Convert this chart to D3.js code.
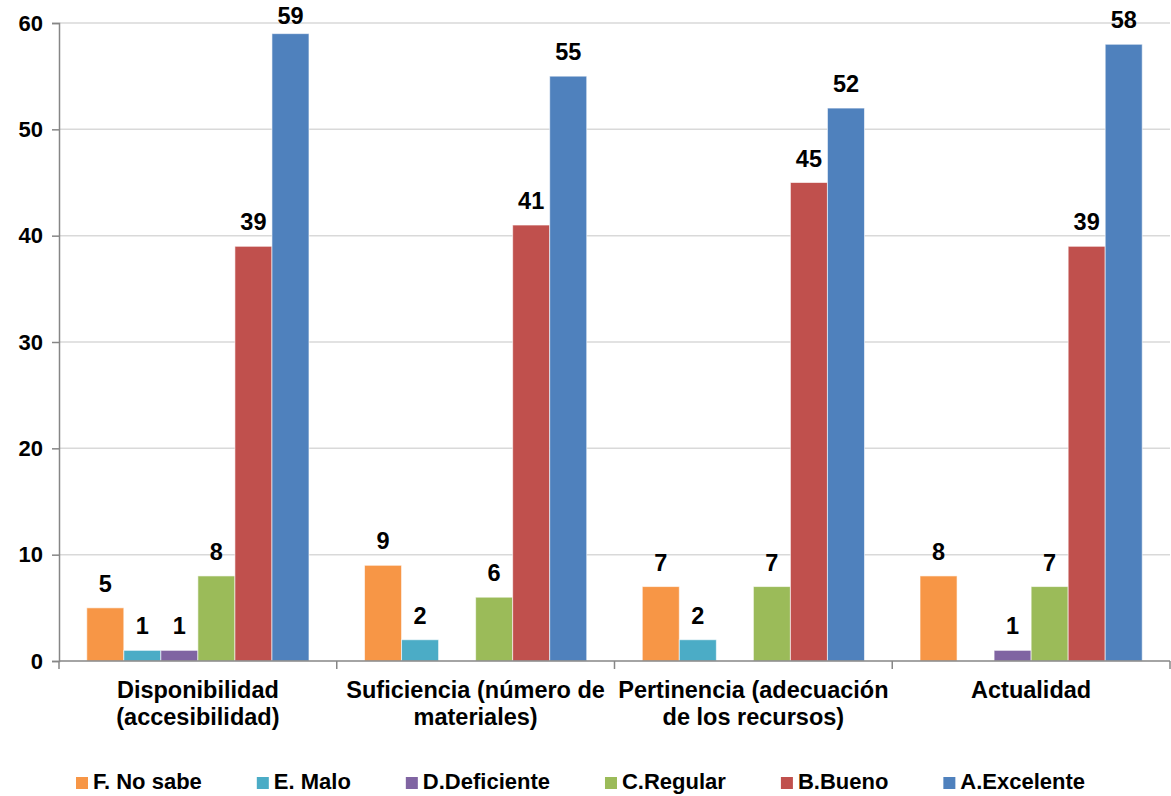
<!DOCTYPE html>
<html>
<head>
<meta charset="utf-8">
<script src="https://cdn.jsdelivr.net/npm/d3@7"></script>
<style>
  body { margin: 0; background: #fff; }
  text { font-family: "Liberation Sans", Arial, sans-serif; font-weight: bold; fill: #000; }
</style>
</head>
<body>
<div id="chart"></div>
<script>
// categories along the x axis, and how each label wraps
var categories = ['Disponibilidad (accesibilidad)', 'Suficiencia (número de materiales)',
  'Pertinencia (adecuación de los recursos)', 'Actualidad'];
var categoryLines = [['Disponibilidad', '(accesibilidad)'], ['Suficiencia (número de', 'materiales)'],
  ['Pertinencia (adecuación', 'de los recursos)'], ['Actualidad']];

// series, in drawing order
var seriesNames = ['F. No sabe', 'E. Malo', 'D.Deficiente', 'C.Regular', 'B.Bueno', 'A.Excelente'];
var seriesColors = ['#F79646', '#4BACC6', '#8064A2', '#9BBB59', '#C0504D', '#4F81BD'];

var noSabe     = [5, 9, 7, 8];
var malo       = [1, 2, 2, 0];
var deficiente = [1, 0, 0, 1];
var regular    = [8, 6, 7, 7];
var bueno      = [39, 41, 45, 39];
var excelente  = [59, 55, 52, 58];
var seriesValues = [noSabe, malo, deficiente, regular, bueno, excelente];

var yTicks = [0, 10, 20, 30, 40, 50, 60];

var W = 1171, H = 796;
// NOTE: 'top' is taken by window.top, so plot edges get their own names
var plotLeft = 59, plotRight = 1170, plotTop = 23, plotBottom = 661;

var svg = d3.select('#chart').append('svg')
  .attr('width', W)
  .attr('height', H);

var x0 = d3.scaleBand().domain(categories).range([plotLeft, plotRight]).paddingInner(0).paddingOuter(0);
var x1 = d3.scaleBand().domain(seriesNames).range([0, x0.bandwidth()]).paddingInner(0).paddingOuter(0.75);
var y = d3.scaleLinear().domain([0, 60]).range([plotBottom, plotTop]);

// gridlines
svg.append('g')
  .selectAll('line')
  .data(yTicks.filter(function(d) { return d > 0; }))
  .enter()
  .append('line')
  .attr('x1', plotLeft).attr('x2', plotRight)
  .attr('y1', function(d) { return y(d); })
  .attr('y2', function(d) { return y(d); })
  .style('stroke', '#d9d9d9')
  .style('stroke-width', 1.5);

// y axis
var yAxis = svg.append('g')
  .attr('transform', 'translate(' + plotLeft + ',0)')
  .call(d3.axisLeft(y).tickValues(yTicks).tickSize(7).tickPadding(9));
yAxis.select('.domain').style('stroke', '#868686').style('stroke-width', 1.5);
yAxis.selectAll('.tick line').style('stroke', '#868686').style('stroke-width', 1.5);
yAxis.selectAll('.tick text')
  .style('font-size', '22px')
  .style('font-family', '"Liberation Sans", Arial, sans-serif')
  .style('font-weight', 'bold')
  .attr('fill', '#000');

// bars + value labels, zero values are left out
var groups = svg.append('g')
  .selectAll('g')
  .data(seriesNames)
  .enter()
  .append('g')
  .style('fill', function(d, i) { return seriesColors[i]; });

groups.each(function(name, si) {
  var g = d3.select(this);
  var pts = categories.map(function(c, ci) { return {cat: c, v: seriesValues[si][ci]}; })
    .filter(function(d) { return d.v > 0; });
  g.selectAll('rect')
    .data(pts)
    .enter()
    .append('rect')
    .attr('x', function(d) { return x0(d.cat) + x1(name); })
    .attr('y', function(d) { return y(d.v); })
    .attr('width', x1.bandwidth())
    .attr('height', function(d) { return y(0) - y(d.v); })
    .style('stroke', '#ffffff')
    .style('stroke-opacity', 0.6)
    .style('stroke-width', 1);
  g.selectAll('text')
    .data(pts)
    .enter()
    .append('text')
    .attr('x', function(d) { return x0(d.cat) + x1(name) + x1.bandwidth() / 2; })
    .attr('y', function(d) { return Math.max(y(d.v) - 16, 24); })
    .attr('text-anchor', 'middle')
    .style('font-size', '23.5px')
    .style('fill', '#000')
    .text(function(d) { return d.v; });
});

// x axis
var xAxisG = svg.append('g');
xAxisG.append('line')
  .attr('x1', plotLeft).attr('x2', plotRight)
  .attr('y1', plotBottom).attr('y2', plotBottom)
  .style('stroke', '#868686').style('stroke-width', 1.5);
var boundaries = categories.map(function(c) { return x0(c); }).concat([plotRight]);
xAxisG.selectAll('line.tick')
  .data(boundaries)
  .enter()
  .append('line')
  .attr('class', 'tick')
  .attr('x1', function(d) { return d; }).attr('x2', function(d) { return d; })
  .attr('y1', plotBottom).attr('y2', plotBottom + 8)
  .style('stroke', '#868686').style('stroke-width', 1.5);

// category labels
var catLabels = xAxisG.selectAll('text.cat')
  .data(categories)
  .enter()
  .append('text')
  .attr('class', 'cat')
  .attr('text-anchor', 'middle')
  .attr('x', function(d) { return x0(d) + x0.bandwidth() / 2; })
  .attr('y', 698)
  .style('font-size', '23.5px');
catLabels.each(function(d, i) {
  var t = d3.select(this);
  var cx = x0(d) + x0.bandwidth() / 2;
  categoryLines[i].forEach(function(line, li) {
    t.append('tspan')
      .attr('x', cx)
      .attr('dy', li === 0 ? 0 : 27)
      .text(line);
  });
});

// legend
var legend = svg.append('g');
var lx = 76;
seriesNames.forEach(function(name, i) {
  legend.append('rect')
    .attr('x', lx).attr('y', 777)
    .attr('width', 12).attr('height', 12)
    .style('fill', seriesColors[i]);
  var t = legend.append('text')
    .attr('x', lx + 17).attr('y', 789)
    .style('font-size', '22px')
    .text(name);
  lx += 17 + t.node().getComputedTextLength() + 55;
});
</script>
</body>
</html>
